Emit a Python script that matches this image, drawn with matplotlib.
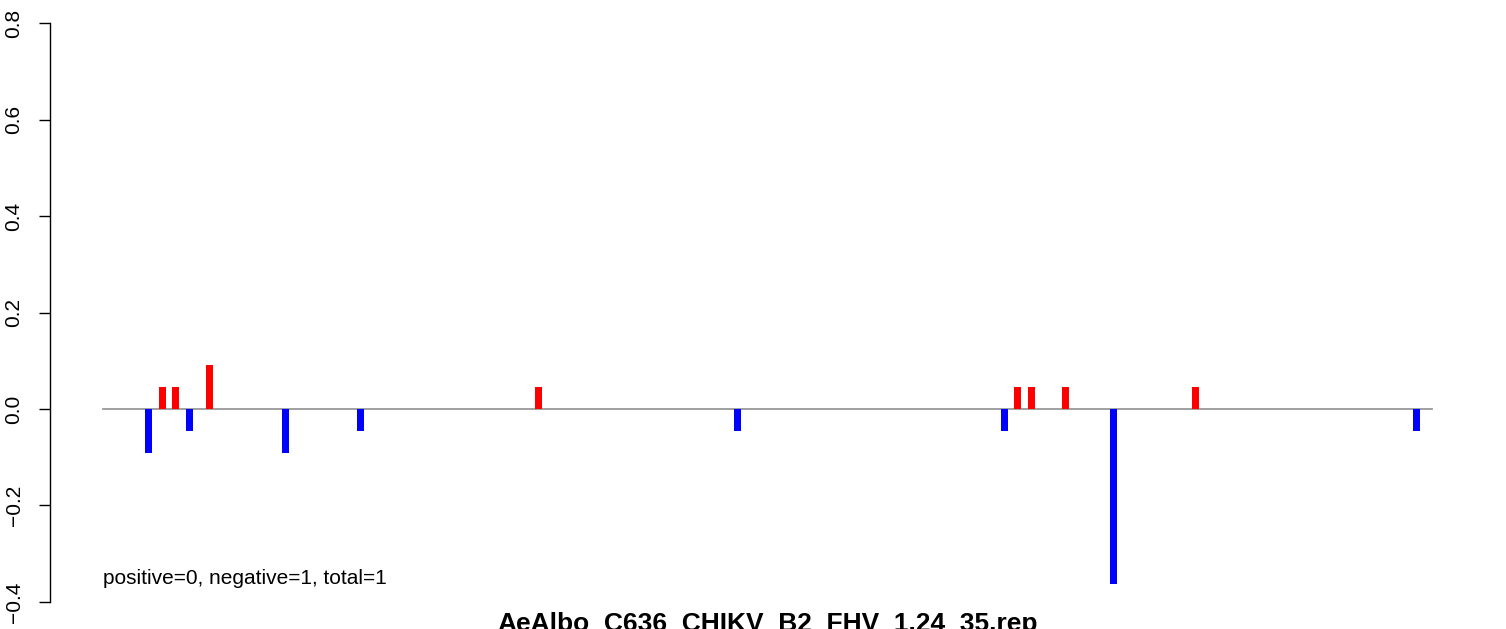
import matplotlib
matplotlib.use("Agg")
import matplotlib.pyplot as plt

plt.rcParams['font.family'] = ['Liberation Sans', 'DejaVu Sans']

# positions along the sequence (relative units) and signed values
pos_x = [59, 72, 106, 435, 914, 928, 962, 1092]
pos_y = [1/22, 1/22, 2/22, 1/22, 1/22, 1/22, 1/22, 1/22]
neg_x = [45, 86, 182, 257, 634, 901, 1010, 1313]
neg_y = [-2/22, -1/22, -2/22, -1/22, -1/22, -1/22, -8/22, -1/22]
seq_start, seq_end = 0, 1329
yticks = [-0.4, -0.2, 0.0, 0.2, 0.4, 0.6, 0.8]
title = "AeAlbo_C636_CHIKV_B2_FHV_1.24_35.rep"
note = "positive=0, negative=1, total=1"

W, H = 1506, 629
fig = plt.figure(figsize=(W/100, H/100), dpi=100)
ax = fig.add_axes([50/W, (629-625)/H, (1485-50)/W, 625/H])
ax.set_xlim(-53, 1382)
ax.set_ylim(-0.448, 0.848)

ax.plot([seq_start, seq_end], [0, 0], color='#999999', lw=1.3, zorder=1)
ax.bar(pos_x, pos_y, width=7, color='#FF0000', zorder=2)
ax.bar(neg_x, neg_y, width=7, color='#0000FF', zorder=2)

for s in ['top', 'right', 'bottom']:
    ax.spines[s].set_visible(False)
ax.spines['left'].set_bounds(-0.4, 0.8)
ax.spines['left'].set_linewidth(1.0)
ax.set_xticks([])
ax.set_yticks(yticks)
ax.set_yticklabels([f"{v:.1f}".replace('-', '\u2212') for v in yticks],
                   rotation=90, va='center', fontsize=15)
ax.tick_params(axis='y', length=8, width=1.0, pad=11)

ax.text(seq_start, -0.3627, note, fontsize=15, ha='left', va='baseline')
fig.text(0.51, -0.003, title, fontsize=19, fontweight='bold', ha='center', va='baseline')

fig.savefig('out.png', dpi=100)
